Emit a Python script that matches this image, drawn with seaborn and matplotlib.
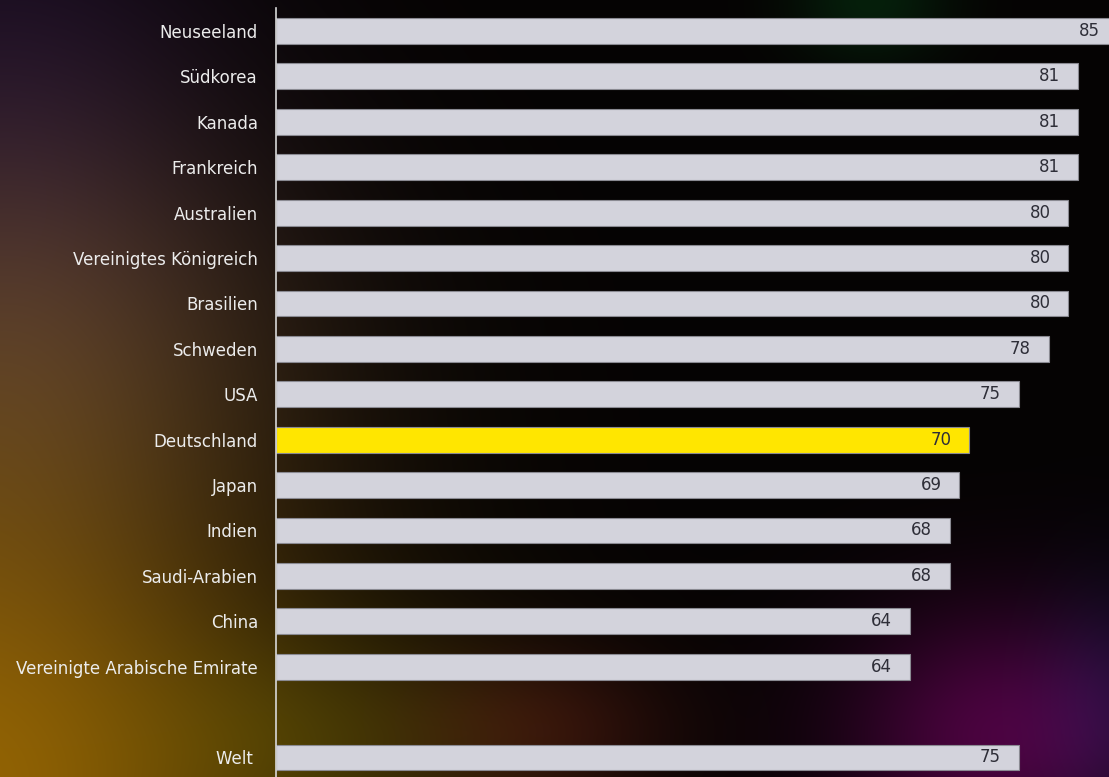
import numpy as np
import pandas as pd
import matplotlib
matplotlib.use("Agg")
import matplotlib.pyplot as plt
import seaborn as sns

# Zustimmung in Prozent je Land
countries = ["Neuseeland", "Südkorea", "Kanada", "Frankreich", "Australien",
             "Vereinigtes Königreich", "Brasilien", "Schweden", "USA",
             "Deutschland", "Japan", "Indien", "Saudi-Arabien", "China",
             "Vereinigte Arabische Emirate", " ", "Welt "]
values = [85, 81, 81, 81, 80, 80, 80, 78, 75, 70, 69, 68, 68, 64, 64, np.nan, 75]
highlight = "Deutschland"

BAR_GREY = "#d3d3dc"
BAR_YELLOW = "#ffe600"
LABEL_DARK = "#2e2e38"
TEXT_LIGHT = "#ececec"

df = pd.DataFrame({"land": countries, "wert": values})
palette = {c: (BAR_YELLOW if c == highlight else BAR_GREY) for c in countries}

sns.set_theme(style="white")
plt.rcParams["font.family"] = ["DejaVu Sans"]

W, H = 1109, 777
fig = plt.figure(figsize=(W / 100, H / 100), dpi=100)

# dark backdrop with soft colour glows
bg = fig.add_axes([0, 0, 1, 1], zorder=-10)
yy, xx = np.mgrid[0:H, 0:W].astype(float)
img = np.zeros((H, W, 3))
img[:] = (5, 3, 3)
glows = [
    # cx, cy, sx, sy, rgb
    (-40, 800, 230, 260, (140, 95, 0)),
    (20, 330, 200, 160, (55, 40, 30)),
    (0, 60, 160, 160, (18, 8, 30)),
    (330, 740, 130, 80, (25, 28, 0)),
    (540, 730, 100, 60, (40, 10, 8)),
    (1000, 735, 110, 90, (70, 0, 60)),
    (1109, 700, 50, 90, (5, 10, 28)),
    (870, 0, 55, 45, (0, 28, 8)),
]
for cx, cy, sx, sy, col in glows:
    g = np.exp(-(((xx - cx) / sx) ** 2 + ((yy - cy) / sy) ** 2) / 2)
    img += g[..., None] * np.array(col, float)
img = np.clip(img, 0, 255) / 255
bg.imshow(img, aspect="auto", extent=[0, 1, 0, 1], interpolation="bilinear")
bg.set_axis_off()

ax = fig.add_axes([276 / W, 0, 1 - 276 / W, 1 - 8 / H])
ax.set_facecolor("none")

sns.barplot(data=df, x="wert", y="land", hue="land", palette=palette,
            orient="h", width=0.57, legend=False, ax=ax,
            edgecolor="#8a8a92", linewidth=0.8, saturation=1)

ax.set_xlim(0, 84.1)
ax.set_ylim(16.43, -0.507)

for i, v in enumerate(values):
    if np.isnan(v):
        continue
    ax.text(v - 1.8, i, f"{v:.0f}", ha="right", va="center",
            fontsize=12, color=LABEL_DARK)

ax.set_xlabel("")
ax.set_ylabel("")
ax.set_xticks([])
ax.tick_params(axis="y", length=0, pad=13, labelsize=12, labelcolor=TEXT_LIGHT)
for s in ["top", "right", "bottom"]:
    ax.spines[s].set_visible(False)
ax.spines["left"].set_color("#d8d8d8")
ax.spines["left"].set_linewidth(1.2)

fig.savefig("out.png", dpi=100)
